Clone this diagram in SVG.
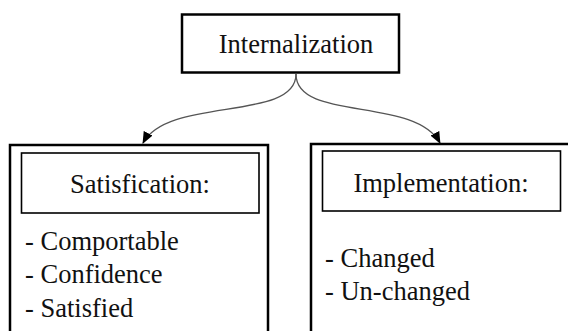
<svg xmlns="http://www.w3.org/2000/svg" width="568" height="331" viewBox="0 0 568 331">
  <defs>
    <marker id="arrow" viewBox="0 0 12 10" refX="11" refY="5" markerWidth="12" markerHeight="10" markerUnits="userSpaceOnUse" orient="auto">
      <path d="M0,0 L12,5 L0,10 Z" fill="#000"/>
    </marker>
    <style>
      text { font-family: "Liberation Serif", "Times New Roman", serif; font-size: 26.5px; fill: #111; }
      .c { text-anchor: middle; }
      .outer { fill: #fff; stroke: #000; stroke-width: 2.5; }
      .inner { fill: #fff; stroke: #000; stroke-width: 1.6; }
      .link { fill: none; stroke: #555; stroke-width: 1.3; marker-end: url(#arrow); }
    </style>
  </defs>
  <rect width="568" height="331" fill="#fff"/>

  <g id="internalization">
    <rect class="outer" x="182" y="14.5" width="217" height="58"/>
    <text class="c" x="296" y="53">Internalization</text>
  </g>

  <g id="satisfication">
    <rect class="outer" x="10" y="145" width="258" height="200"/>
    <rect class="inner" x="21.5" y="153" width="237.5" height="60"/>
    <text class="c" x="140" y="193">Satisfication:</text>
    <text x="25" y="250">- Comportable</text>
    <text x="25" y="283">- Confidence</text>
    <text x="25" y="317">- Satisfied</text>
  </g>

  <g id="implementation">
    <rect class="outer" x="311" y="144" width="270" height="200"/>
    <rect class="inner" x="322.5" y="151" width="238" height="60"/>
    <text class="c" x="441" y="192">Implementation:</text>
    <text x="325" y="267">- Changed</text>
    <text x="325" y="300">- Un-changed</text>
  </g>

  <g id="connectors">
    <path class="link" d="M296,74 C296,122 168,96 143,143"/>
    <path class="link" d="M296,74 C296,122 415,96 440,143"/>
  </g>
</svg>
